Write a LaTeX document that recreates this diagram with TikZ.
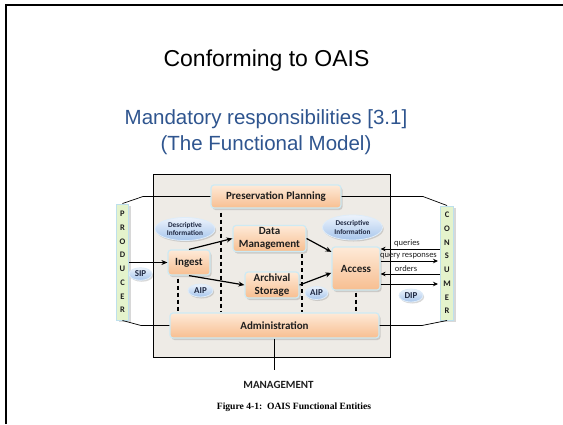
\documentclass[tikz,border=0pt]{standalone}
\usepackage{fontspec}
\setmainfont{Liberation Sans}
\newfontfamily\calib{Carlito}
\newfontfamily\tms{Liberation Serif}
\usetikzlibrary{shapes.geometric,shadows,arrows.meta,calc}
\definecolor{subblue}{RGB}{47,85,143}
\definecolor{graybg}{RGB}{238,235,230}
\definecolor{boxtop}{RGB}{254,234,216}
\definecolor{boxbot}{RGB}{247,190,144}
\definecolor{boxedge}{RGB}{205,234,244}
\definecolor{elltop}{RGB}{236,243,252}
\definecolor{ellbot}{RGB}{168,198,236}
\definecolor{elledge}{RGB}{222,236,249}
\definecolor{barfill}{RGB}{228,243,204}
\definecolor{baredge}{RGB}{190,224,236}
\definecolor{navy}{RGB}{30,40,66}
\definecolor{dark}{RGB}{30,30,30}
\tikzset{
  box/.style={rounded corners=3pt, draw=boxedge, line width=1.2pt,
    top color=boxtop, bottom color=boxbot,
    drop shadow={shadow xshift=1.5pt, shadow yshift=-2pt, opacity=0.3},
    font=\calib\bfseries\fontsize{11}{13}\selectfont, text=dark,
    align=center, inner sep=0pt},
  ell/.style={ellipse, draw=elledge, line width=0.8pt,
    top color=elltop, bottom color=ellbot,
    drop shadow={shadow xshift=1.2pt, shadow yshift=-1.5pt, opacity=0.3},
    text=navy, align=center, inner sep=0pt},
  smalltxt/.style={font=\calib\bfseries\fontsize{7.3}{8.3}\selectfont},
  tagtxt/.style={font=\calib\bfseries\fontsize{9}{10}\selectfont},
  bar/.style={draw=baredge, line width=1pt, fill=barfill,
    drop shadow={shadow xshift=2pt, shadow yshift=-2pt, opacity=0.3},
    font=\calib\bfseries\fontsize{8.5}{13.7}\selectfont, text=dark,
    align=center, inner sep=0pt},
  arr/.style={-{Stealth[length=6pt,width=5pt]}, line width=1.2pt},
  sarr/.style={-{Stealth[length=5pt,width=4.5pt]}, line width=1pt},
  dsh/.style={dash pattern=on 4pt off 3pt, line width=1.2pt},
  thin/.style={line width=0.7pt},
  lbl/.style={font=\calib\fontsize{8.5}{9}\selectfont, text=dark, inner sep=0pt}
}
\begin{document}
\begin{tikzpicture}[x=1pt,y=-1pt]
\useasboundingbox (0,0) rectangle (563,424);
\fill[white] (0,0) rectangle (563,424);
\draw[line width=1.8pt] (6,424) -- (6,5) -- (563,5);

\node[anchor=base, font=\fontsize{23}{27}\selectfont] (title) at (266.5,66) {Conforming to OAIS};
\node[anchor=base, text=subblue, font=\fontsize{20.5}{26}\selectfont] (sub1) at (266,124.3) {Mandatory responsibilities [3.1]};
\node[anchor=base, text=subblue, font=\fontsize{20.5}{26}\selectfont] (sub2) at (266,150) {(The Functional Model)};

% frame
\filldraw[fill=graybg, draw=black, line width=0.9pt] (153,174) rectangle (390,357);

% bars
\node[bar, minimum width=12pt, minimum height=116pt] (prod) at (122.5,262) {P\\R\\O\\D\\U\\C\\E\\R};
\node[bar, minimum width=13pt, minimum height=114pt] (cons) at (447,263) {C\\O\\N\\S\\U\\M\\E\\R};

% boxes
\node[box, minimum width=130pt, minimum height=23pt] (pp) at (276,196.5) {Preservation Planning};
\node[box, minimum width=73pt, minimum height=26pt] (dm) at (269.5,238.5) {Data\\Management};
\node[box, minimum width=42pt, minimum height=25pt] (ingest) at (189,262.5) {Ingest};
\node[box, minimum width=54pt, minimum height=26pt] (arch) at (272,285) {Archival\\Storage};
\node[box, minimum width=48pt, minimum height=43pt] (access) at (356,268.5) {Access};
\node[box, minimum width=209pt, minimum height=25pt] (admin) at (274.5,325.5) {Administration};

% ellipses
\node[ell, smalltxt, minimum width=60pt, minimum height=23pt] (desc1) at (185,229) {Descriptive\\Information};
\node[ell, smalltxt, minimum width=60pt, minimum height=25pt] (desc2) at (352.5,227.5) {Descriptive\\Information};
\node[ell, tagtxt, minimum width=23pt, minimum height=12.5pt] (sip) at (140.5,274) {SIP};
\node[ell, tagtxt, minimum width=25pt, minimum height=13pt] (aip1) at (200.5,290.5) {AIP};
\node[ell, tagtxt, minimum width=23pt, minimum height=13pt] (aip2) at (316.5,293) {AIP};
\node[ell, tagtxt, minimum width=24pt, minimum height=13pt] (dip) at (411,295.5) {DIP};

% dashed separators
\coordinate (d1) at (178,0);
\coordinate (d2) at (221,0);
\coordinate (d3) at (302,0);
\coordinate (d4) at (356,0);
\draw[dsh] ($(ingest.south -| d1)+(0,3)$) -- (admin.north -| d1);
\draw[dsh] ($(pp.south -| d2)+(0,4)$) -- (admin.north -| d2);
\draw[dsh] ($(dm.south -| d3)+(0,2)$) -- (admin.north -| d3);
\draw[dsh] ($(access.south -| d4)+(0,2)$) -- (admin.north -| d4);

% internal arrows
\draw[arr] (prod.east |- ingest.west) -- (ingest.west);
\draw[arr] (ingest.north) -- (dm.west);
\draw[arr] (ingest.south) -- (arch.west);
\draw[arr] (dm.east) -- (access.146);
\draw[arr] (arch.east) -- (access.190);

% consumer exchanges
\draw[sarr] (cons.west |- 0,249) -- (access.east |- 0,249);
\draw[sarr] (access.east |- 0,261) -- ($(cons.west |- 0,261)+(-2,0)$);
\draw[sarr] (cons.west |- 0,274) -- (access.east |- 0,274);
\draw[sarr] (access.east |- 0,284) -- ($(cons.west |- 0,284)+(-2,0)$);
\node[lbl] (lq) at (407,243) {queries};
\node[lbl] (lqr) at (408.5,256.5) {query responses};
\node[lbl] (lo) at (406,269) {orders};

% outer links
\draw[thin] (pp.west) -- (143,196.5) -- (prod.north);
\draw[thin] (pp.east) -- (423,196.5) -- (cons.north);
\draw[thin] (admin.west) -- (141,325.5) -- (prod.south);
\draw[thin] (admin.east) -- (422,325.5) -- (cons.south);

% management
\coordinate (mg) at (274.5,370);
\draw[line width=1pt] (admin.south) -- (mg);
\node[font=\calib\bfseries\fontsize{11}{12}\selectfont, text=dark] (mgmt) at (278.5,385) {MANAGEMENT};
\node[font=\tms\bfseries\fontsize{9.6}{11}\selectfont] (cap) at (294,407) {Figure 4-1:\ \ OAIS Functional Entities};
\end{tikzpicture}
\end{document}
